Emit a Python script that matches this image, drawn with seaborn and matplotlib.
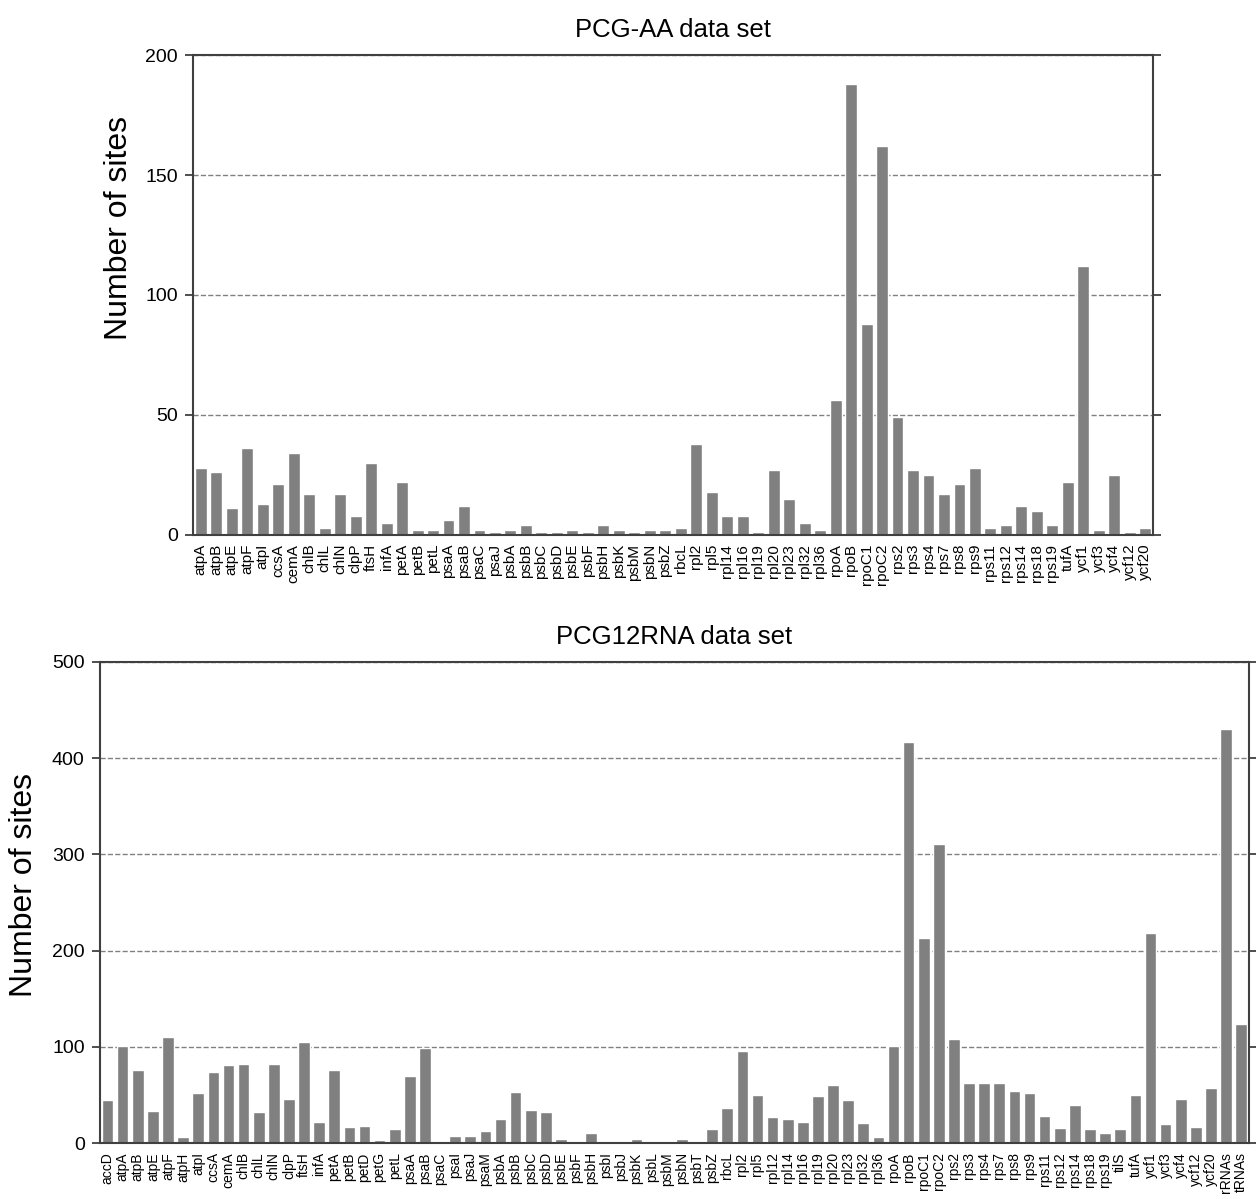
import pandas as pd
import seaborn as sns
import matplotlib.pyplot as plt

# PCG-AA data set
aa_genes = ['atpA', 'atpB', 'atpE', 'atpF', 'atpI', 'ccsA', 'cemA', 'chlB', 'chlL', 'chlN',
            'clpP', 'ftsH', 'infA', 'petA', 'petB', 'petL', 'psaA', 'psaB', 'psaC', 'psaJ',
            'psbA', 'psbB', 'psbC', 'psbD', 'psbE', 'psbF', 'psbH', 'psbK', 'psbM', 'psbN',
            'psbZ', 'rbcL', 'rpl2', 'rpl5', 'rpl14', 'rpl16', 'rpl19', 'rpl20', 'rpl23', 'rpl32',
            'rpl36', 'rpoA', 'rpoB', 'rpoC1', 'rpoC2', 'rps2', 'rps3', 'rps4', 'rps7', 'rps8',
            'rps9', 'rps11', 'rps12', 'rps14', 'rps18', 'rps19', 'tufA', 'ycf1', 'ycf3', 'ycf4',
            'ycf12', 'ycf20']
aa_sites = [28, 26, 11, 36, 13, 21, 34, 17, 3, 17,
            8, 30, 5, 22, 2, 2, 6, 12, 2, 1,
            2, 4, 1, 1, 2, 1, 4, 2, 1, 2,
            2, 3, 38, 18, 8, 8, 1, 27, 15, 5,
            2, 56, 188, 88, 162, 49, 27, 25, 17, 21,
            28, 3, 4, 12, 10, 4, 22, 112, 2, 25,
            1, 3]

# PCG12RNA data set
rna_genes = ['accD', 'atpA', 'atpB', 'atpE', 'atpF', 'atpH', 'atpI', 'ccsA', 'cemA', 'chlB',
             'chlL', 'chlN', 'clpP', 'ftsH', 'infA', 'petA', 'petB', 'petD', 'petG', 'petL',
             'psaA', 'psaB', 'psaC', 'psaI', 'psaJ', 'psaM', 'psbA', 'psbB', 'psbC', 'psbD',
             'psbE', 'psbF', 'psbH', 'psbI', 'psbJ', 'psbK', 'psbL', 'psbM', 'psbN', 'psbT',
             'psbZ', 'rbcL', 'rpl2', 'rpl5', 'rpl12', 'rpl14', 'rpl16', 'rpl19', 'rpl20', 'rpl23',
             'rpl32', 'rpl36', 'rpoA', 'rpoB', 'rpoC1', 'rpoC2', 'rps2', 'rps3', 'rps4', 'rps7',
             'rps8', 'rps9', 'rps11', 'rps12', 'rps14', 'rps18', 'rps19', 'tilS', 'tufA', 'ycf1',
             'ycf3', 'ycf4', 'ycf12', 'ycf20', 'rRNAs', 'tRNAs']
rna_sites = [45, 101, 76, 33, 110, 7, 52, 74, 81, 82,
             32, 82, 46, 105, 22, 76, 17, 18, 3, 15,
             70, 99, 2, 8, 8, 13, 25, 53, 35, 32,
             4, 2, 11, 2, 2, 4, 1, 2, 4, 1,
             15, 37, 96, 50, 27, 25, 22, 49, 60, 45,
             21, 7, 101, 417, 213, 311, 108, 63, 63, 63,
             54, 52, 28, 16, 40, 15, 11, 15, 50, 218,
             20, 46, 17, 57, 430, 124]

sns.set_style('white')
plt.rcParams['font.family'] = ['Liberation Sans', 'DejaVu Sans']
plt.rcParams['text.color'] = 'black'
plt.rcParams['axes.labelcolor'] = 'black'
plt.rcParams['xtick.color'] = 'black'
plt.rcParams['ytick.color'] = 'black'

fig = plt.figure(figsize=(12.56, 11.99), dpi=100)
ax1 = fig.add_axes([0.1537, 0.554, 0.7643, 0.400])
ax2 = fig.add_axes([0.0796, 0.0465, 0.9146, 0.4014])


def draw(ax, genes, sites, title, ymax, step, xfs, label_xy):
    df = pd.DataFrame({'gene': genes, 'sites': sites})
    sns.barplot(data=df, x='gene', y='sites', color='#808080', saturation=1,
                width=0.77, ax=ax)
    ax.set_xlim(-0.5, len(genes) - 0.5)
    ax.set_ylim(0, ymax)
    ax.set_yticks(range(0, ymax + 1, step))
    ax.yaxis.grid(True, linestyle='--', color='#808080', linewidth=1)
    ax.set_axisbelow(True)
    for s in ax.spines.values():
        s.set_visible(True)
        s.set_color('#404040')
        s.set_linewidth(1.5)
    ax.tick_params(axis='y', left=True, right=True, direction='out', length=6,
                   width=1.3, color='#404040', labelcolor='black', labelsize=14, pad=5)
    ax.tick_params(axis='x', bottom=False, labelsize=xfs, pad=3, rotation=90,
                   labelcolor='black')
    ax.set_xlabel('')
    ax.set_ylabel('Number of sites', fontsize=23)
    ax.yaxis.set_label_coords(*label_xy)
    ax.set_title(title, fontsize=18.5, pad=13, color='black')


draw(ax1, aa_genes, aa_sites, 'PCG-AA data set', 200, 50, 11, (-0.061, 0.64))
draw(ax2, rna_genes, rna_sites, 'PCG12RNA data set', 500, 100, 10, (-0.053, 0.536))

plt.savefig('out.png', dpi=100)
